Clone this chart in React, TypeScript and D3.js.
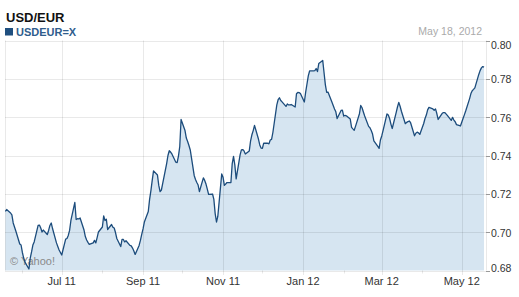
import React from "react";
import * as d3 from "d3";

const title = "USD/EUR";
const seriesName = "USDEUR=X";
const asOfLabel = "May 18, 2012";
const credit = "© Yahoo!";

// one close per weekday, 2011-05-19 .. 2012-05-18
const firstDay = new Date(2011, 4, 19);
const lastDay = new Date(2012, 4, 18);
const closes = [
  0.7108, 0.7118,
  0.7100, 0.7090, 0.7048, 0.7027, 0.7006,
  0.6938, 0.6933, 0.6894, 0.6865, 0.6844,
  0.6808, 0.6865, 0.6897, 0.6933, 0.6949,
  0.7035, 0.7037, 0.7022, 0.7001, 0.7011,
  0.6988, 0.7009, 0.7035, 0.7048, 0.7019,
  0.6944, 0.6925, 0.6907, 0.6894, 0.6881,
  0.6964, 0.6967, 0.6983, 0.7009, 0.7061,
  0.7155, 0.7066, 0.7070, 0.7069, 0.7074,
  0.7011, 0.6977, 0.6959, 0.6947, 0.6936,
  0.6944, 0.6957, 0.6944, 0.6972, 0.7001,
  0.7027, 0.7085, 0.7061, 0.7068, 0.7014,
  0.7040, 0.7026, 0.7022, 0.6998, 0.6967,
  0.6925, 0.6962, 0.6962, 0.6949, 0.6955,
  0.6931, 0.6928, 0.6917, 0.6902, 0.6884,
  0.6931, 0.6957, 0.6988, 0.7017, 0.7053,
  0.7108, 0.7171, 0.7217, 0.7270, 0.7320,
  0.7298, 0.7244, 0.7212, 0.7220, 0.7254,
  0.7358, 0.7400, 0.7425, 0.7418, 0.7408,
  0.7365, 0.7363, 0.7397, 0.7447, 0.7588,
  0.7530, 0.7491, 0.7473, 0.7452, 0.7429,
  0.7296, 0.7275, 0.7259, 0.7246, 0.7212,
  0.7283, 0.7270, 0.7251, 0.7225, 0.7197,
  0.7199, 0.7171, 0.7097, 0.7053, 0.7082,
  0.7304, 0.7287, 0.7244, 0.7251, 0.7259,
  0.7259, 0.7358, 0.7395, 0.7350, 0.7278,
  0.7403, 0.7429, 0.7431, 0.7424, 0.7408,
  0.7424, 0.7476, 0.7508, 0.7530, 0.7557,
  0.7486, 0.7455, 0.7439, 0.7437, 0.7465,
  0.7464, 0.7461, 0.7481, 0.7484, 0.7520,
  0.7664, 0.7691, 0.7701, 0.7687, 0.7680,
  0.7656, 0.7669, 0.7664, 0.7664, 0.7666,
  0.7653, 0.7722, 0.7729, 0.7728, 0.7723,
  0.7679, 0.7731, 0.7773, 0.7815, 0.7841,
  0.7842, 0.7843, 0.7854, 0.7838, 0.7880,
  0.7896, 0.7833, 0.7770, 0.7730, 0.7731,
  0.7679, 0.7661, 0.7643, 0.7628, 0.7593,
  0.7635, 0.7637, 0.7606, 0.7609, 0.7607,
  0.7590, 0.7547, 0.7539, 0.7532, 0.7552,
  0.7618, 0.7661, 0.7649, 0.7627, 0.7606,
  0.7552, 0.7545, 0.7530, 0.7512, 0.7476,
  0.7447, 0.7437, 0.7481, 0.7502, 0.7530,
  0.7617, 0.7611, 0.7593, 0.7564, 0.7541,
  0.7624, 0.7653, 0.7677, 0.7657, 0.7631,
  0.7566, 0.7573, 0.7577, 0.7580, 0.7571,
  0.7503, 0.7516, 0.7522, 0.7518, 0.7510,
  0.7567, 0.7593, 0.7611, 0.7638, 0.7651,
  0.7643, 0.7636, 0.7643, 0.7619, 0.7588,
  0.7619, 0.7624, 0.7624, 0.7617, 0.7609,
  0.7583, 0.7599, 0.7585, 0.7576, 0.7561,
  0.7554, 0.7573, 0.7593, 0.7612, 0.7632,
  0.7697, 0.7723, 0.7738, 0.7745, 0.7753,
  0.7823, 0.7843, 0.7857, 0.7864, 0.7861,
];

const yTicks = [0.68, 0.7, 0.72, 0.74, 0.76, 0.78, 0.8];
const xMajorDates = [
  new Date(2011, 6, 1), new Date(2011, 8, 1), new Date(2011, 10, 1),
  new Date(2012, 0, 1), new Date(2012, 2, 1), new Date(2012, 4, 1),
];
const xMajorLabels = ["Jul 11", "Sep 11", "Nov 11", "Jan 12", "Mar 12", "May 12"];
const xMinorDates = [
  new Date(2011, 5, 1), new Date(2011, 7, 1), new Date(2011, 9, 1),
  new Date(2011, 11, 1), new Date(2012, 1, 1), new Date(2012, 3, 1),
];

const FONT = "'Liberation Sans', Arial, Helvetica, sans-serif";

export default function App() {
  const W = 519, H = 297;
  const left = 5, right = 486, top = 40.5, bottom = 270.5;

  const days = d3.timeDay
    .range(firstDay, d3.timeDay.offset(lastDay, 1))
    .filter((d) => d.getDay() !== 0 && d.getDay() !== 6);
  const data = days.map((d, i) => ({ date: d, value: closes[i] })).filter((d) => d.value != null);

  const x = d3.scaleTime()
    .domain([new Date(2011, 4, 18, 18), new Date(2012, 4, 19, 12)])
    .range([left, right]);
  const y = d3.scaleLinear().domain([0.68, 0.8]).range([bottom, top]);

  const line = d3.line<{ date: Date; value: number }>()
    .x((d) => x(d.date))
    .y((d) => y(d.value));
  const area = d3.area<{ date: Date; value: number }>()
    .x((d) => x(d.date))
    .y0(bottom)
    .y1((d) => y(d.value));

  const grid = "rgba(0,0,0,0.085)";

  return (
    <svg
      width={W}
      height={H}
      style={{ position: "absolute", left: 0, top: 0, background: "#fff" }}
      fontFamily={FONT}
    >
      <rect x={0} y={0} width={W} height={H} fill="#fff" />
      {/* header */}
      <text x={6} y={22} fontSize={13} fontWeight="bold" fill="#111">{title}</text>
      <rect x={5} y={28} width={8} height={7.5} fill="#1f4f7f" />
      <text x={16} y={35.5} fontSize={11} fontWeight="bold" fill="#2f5d8d">{seriesName}</text>
      <text x={482} y={35} fontSize={10.5} fill="#aaaaaa" textAnchor="end">{asOfLabel}</text>

      {/* area */}
      <path d={area(data) || ""} fill="#d6e5f1" />

      {/* grid */}
      {yTicks.map((t) => (
        <line key={"gy" + t} x1={left} x2={right} y1={Math.round(y(t)) + 0.5} y2={Math.round(y(t)) + 0.5} stroke={grid} />
      ))}
      {xMajorDates.map((d, i) => (
        <line key={"gx" + i} x1={Math.round(x(d)) + 0.5} x2={Math.round(x(d)) + 0.5} y1={top} y2={bottom + 4.5} stroke={grid} />
      ))}
      {xMinorDates.map((d, i) => (
        <line key={"mx" + i} x1={Math.round(x(d)) + 0.5} x2={Math.round(x(d)) + 0.5} y1={bottom} y2={bottom + 3} stroke={grid} />
      ))}
      <line x1={left + 0.5} x2={left + 0.5} y1={top} y2={bottom} stroke={grid} />
      <line x1={right + 0.5} x2={right + 0.5} y1={top} y2={bottom} stroke={grid} />

      {/* y axis labels */}
      {yTicks.map((t, i) => {
        const yy = y(t);
        const shift = i === yTicks.length - 1 ? 4 : i === 0 ? -3 : 0.5;
        return (
          <g key={"yl" + t}>
            <line x1={right} x2={right + 4} y1={Math.round(yy) + 0.5} y2={Math.round(yy) + 0.5} stroke="#999" />
            <text x={491} y={yy + shift} fontSize={10.5} fill="#333" dominantBaseline="central">
              {d3.format(".2f")(t)}
            </text>
          </g>
        );
      })}

      {/* x axis labels */}
      {xMajorDates.map((d, i) => (
        <text key={"xl" + i} x={x(d)} y={285} fontSize={11} fill="#333" textAnchor="middle">
          {xMajorLabels[i]}
        </text>
      ))}

      <text x={10} y={265} fontSize={11} fill="#8a8a8a">{credit}</text>

      {/* line */}
      <path d={line(data) || ""} fill="none" stroke="#1c4c7c" strokeWidth={1.3} strokeLinejoin="round" />
    </svg>
  );
}
